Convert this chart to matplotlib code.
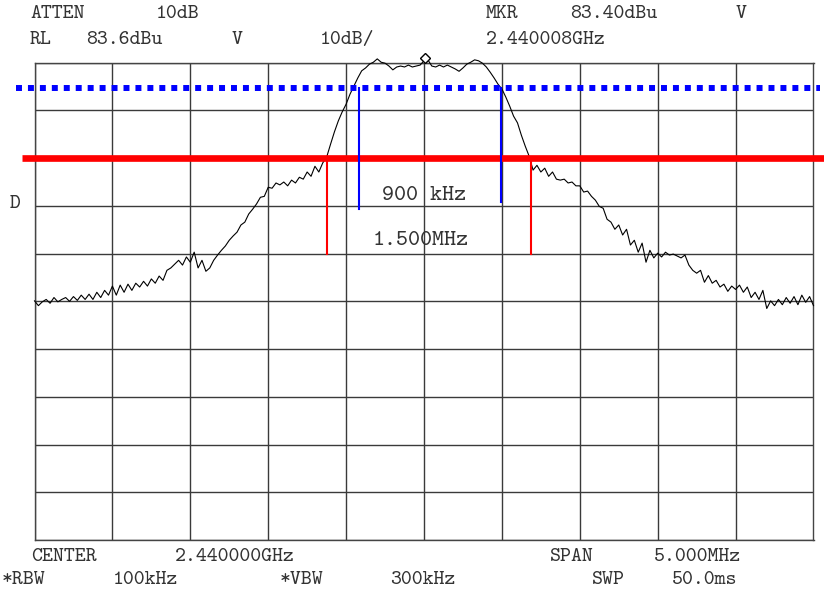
import numpy as np
import matplotlib.pyplot as plt
from matplotlib.transforms import offset_copy

# barrido del analizador (201 puntos, 2437.5 - 2442.5 MHz)
freqs = np.linspace(2437.5, 2442.5, 201)
nivel = [
    33.7, 32.7, 33.5, 34.0, 33.2, 34.4, 33.5, 34.0, 34.4, 33.6,
    34.6, 33.8, 34.9, 34.0, 35.1, 34.0, 35.5, 34.4, 35.9, 34.9,
    36.8, 34.9, 37.0, 35.5, 37.2, 35.9, 37.4, 36.6, 37.8, 36.8,
    38.3, 37.4, 38.9, 38.0, 40.1, 40.6, 41.4, 42.2, 41.2, 42.9,
    41.8, 43.9, 40.6, 42.2, 39.9, 40.6, 42.2, 43.3, 44.3, 45.2,
    46.4, 47.3, 48.1, 49.6, 50.2, 51.9, 52.9, 54.0, 55.4, 55.6,
    57.5, 57.3, 58.4, 58.0, 58.6, 57.8, 59.0, 58.4, 59.6, 59.2,
    60.7, 59.8, 61.9, 60.7, 62.6, 63.8, 66.5, 69.1, 71.4, 73.3,
    74.9, 77.0, 78.7, 80.4, 81.9, 82.5, 83.3, 83.7, 84.4, 83.7,
    83.5, 82.9, 82.1, 82.7, 82.9, 82.7, 83.1, 82.7, 82.9, 83.1,
    84.0, 84.2, 82.9, 82.7, 83.1, 82.7, 83.1, 82.7, 82.3, 81.8,
    82.5, 83.3, 83.7, 84.2, 84.0, 83.5, 82.7, 81.6, 80.4, 79.1,
    78.1, 76.4, 74.5, 72.4, 71.0, 68.4, 66.1, 64.0, 61.1, 62.1,
    60.7, 61.5, 59.8, 60.7, 59.2, 59.0, 59.2, 58.4, 58.6, 57.8,
    57.8, 56.5, 56.7, 55.6, 54.8, 53.5, 53.1, 50.8, 50.2, 48.7,
    49.6, 47.5, 48.7, 45.4, 46.4, 43.9, 45.8, 41.8, 44.3, 42.7,
    43.7, 42.9, 43.9, 43.3, 43.5, 43.1, 42.7, 43.3, 41.2, 40.1,
    39.5, 40.1, 37.6, 39.0, 37.4, 38.0, 36.6, 37.2, 35.7, 36.8,
    36.1, 37.0, 35.5, 36.6, 34.4, 35.5, 34.0, 35.9, 32.1, 33.7,
    32.7, 34.0, 32.9, 34.4, 33.2, 34.6, 32.9, 34.9, 33.4, 34.6,
    32.7,
]

ref_level = 83.6
escala = 10.0
centro = 2440.0
span = 5.0

mkr_f, mkr_nivel = 2440.008, 83.4
nivel_azul = 78.4
nivel_rojo = 63.6
azul_f = [2439.583, 2440.492]
azul_fin = [52.9, 54.5]
rojo_f = [2439.378, 2440.687]
rojo_fin = 43.6

fuente = 'cmtt10'
gris = '#333333'

fig = plt.figure(figsize=(8.24, 5.92), dpi=100)
ax = fig.add_axes([34.5 / 824, 52 / 592, 779 / 824, 477.3 / 592])

x0, x1 = centro - span / 2, centro + span / 2
y0, y1 = ref_level - 10 * escala, ref_level
ax.set_xlim(x0, x1)
ax.set_ylim(y0, y1)
ax.set_xticks(np.linspace(x0, x1, 11))
ax.set_yticks(np.linspace(y0, y1, 11))
ax.tick_params(length=0, labelbottom=False, labelleft=False)
ax.grid(True, color='#3a3a3a', lw=1.0)
for s in ax.spines.values():
    s.set_color('#444444')
    s.set_linewidth(1.0)

ax.plot(freqs, nivel, color='black', lw=0.8, clip_on=False, zorder=3)

# líneas de referencia
ax.plot([x0 - 0.12, x1 + 0.04], [nivel_azul, nivel_azul], color='#0000ff',
        lw=4.3, linestyle=(0, (1, 1)), dash_capstyle='butt', clip_on=False, zorder=4)
ax.plot([x0 - 0.08, x1 + 0.07], [nivel_rojo, nivel_rojo], color='#ff0000',
        lw=4.8, solid_capstyle='butt', clip_on=False, zorder=4)
for f, fin in zip(azul_f, azul_fin):
    ax.plot([f, f], [nivel_azul, fin], color='#0000ff', lw=1.5, zorder=5)
for f in rojo_f:
    ax.plot([f, f], [nivel_rojo, rojo_fin], color='#ff0000', lw=1.5, zorder=5)

tr = offset_copy(ax.transData, fig=fig, x=0, y=4, units='points')
ax.plot([mkr_f], [mkr_nivel], marker='D', ms=5.5, mfc='white', mec='black',
        mew=1.0, transform=tr, clip_on=False, zorder=6)

ax.text(2440.0, 55.8, '900 kHz', family=fuente, fontsize=16.5, color=gris,
        ha='center', va='center', zorder=6)
ax.text(2439.98, 46.4, '1.500MHz', family=fuente, fontsize=16.5, color=gris,
        ha='center', va='center', zorder=6)

textos = [
    (30, 14, 'ATTEN'), (156, 14, '10dB'), (486, 14, 'MKR'), (570, 14, '83.40dBu'),
    (736, 14, 'V'),
    (30, 40, 'RL'), (86, 40, '83.6dBu'), (232, 40, 'V'), (320, 40, '10dB/'),
    (486, 40, '2.440008GHz'),
    (10, 204, 'D'),
    (31, 557, 'CENTER'), (175, 557, '2.440000GHz'), (550, 557, 'SPAN'),
    (654, 557, '5.000MHz'),
    (2, 580, '*RBW'), (113, 580, '100kHz'), (280, 580, '*VBW'), (390, 580, '300kHz'),
    (592, 580, 'SWP'), (672, 580, '50.0ms'),
]
for x, y, s in textos:
    fig.text(x / 824, 1 - y / 592, s, family=fuente, fontsize=15, color=gris,
             ha='left', va='center')

fig.savefig('out.png', dpi=100)
